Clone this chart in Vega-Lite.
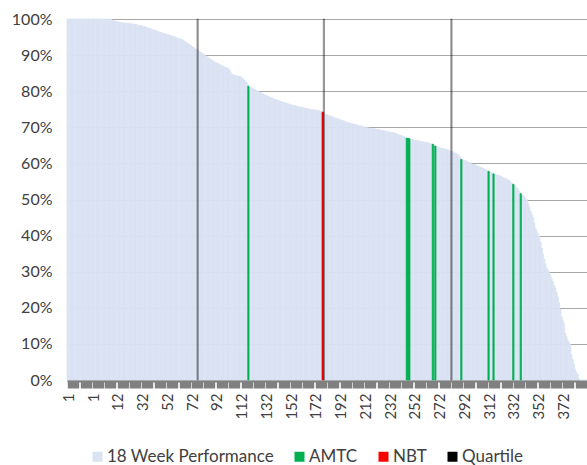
{
  "$schema": "https://vega.github.io/schema/vega-lite/v6.json",
  "width": 520,
  "height": 361,
  "autosize": {"type": "none"},
  "padding": {"left": 67, "top": 19, "right": 0, "bottom": 85},
  "config": {"view": {"stroke": null}},
  "encoding": {
    "x": {
      "field": "i",
      "type": "ordinal",
      "scale": {"type": "band", "paddingInner": 0, "paddingOuter": 0},
      "axis": {
        "title": null,
        "grid": false,
        "values": [0,10,20,30,40,50,60,70,80,90,100,110,120,130,140,150,160,170,180,190,200,210,220,230,240,250,260,270,280,290,300,310,320,330,340,350,360,370,380,390,400,410],
        "bandPosition": 0,
        "tickOffset": 6.19,
        "labelOffset": -5.57,
        "tickWidth": 11.38,
        "tickSize": 7,
        "tickColor": "#808080",
        "domainColor": "#808080",
        "domainWidth": 2,
        "offset": 1,
        "labelAngle": 270,
        "labelOverlap": false,
        "labelPadding": 5,
        "labelFont": "Lato",
        "labelFontSize": 15,
        "labelColor": "#404040",
        "labelExpr": "datum.value % 20 != 0 ? '' : (datum.value < 30 ? '1' : '' + (datum.value - 28))"
      }
    },
    "y": {
      "field": "v",
      "type": "quantitative",
      "scale": {"domain": [0, 100], "nice": false},
      "axis": {
        "title": null,
        "values": [0,10,20,30,40,50,60,70,80,90,100],
        "labelExpr": "datum.value + '%'",
        "grid": true,
        "gridColor": "#A6A6A6",
        "domainColor": "#A6A6A6",
        "ticks": false,
        "tickSize": 0,
        "labelPadding": 15,
        "labelFont": "Lato",
        "labelFontSize": 16,
        "labelColor": "#404040"
      }
    }
  },
  "layer": [
    {
      "data": {"values": [
{"i":0,"v":100},{"i":1,"v":100},{"i":2,"v":100},{"i":3,"v":100},{"i":4,"v":100},{"i":5,"v":100},{"i":6,"v":100},{"i":7,"v":100},{"i":8,"v":100},{"i":9,"v":100},
{"i":10,"v":100},{"i":11,"v":100},{"i":12,"v":100},{"i":13,"v":100},{"i":14,"v":100},{"i":15,"v":100},{"i":16,"v":100},{"i":17,"v":100},{"i":18,"v":100},{"i":19,"v":100},
{"i":20,"v":100},{"i":21,"v":100},{"i":22,"v":100},{"i":23,"v":100},{"i":24,"v":100},{"i":25,"v":100},{"i":26,"v":100},{"i":27,"v":100},{"i":28,"v":100},{"i":29,"v":100},
{"i":30,"v":100},{"i":31,"v":100},{"i":32,"v":100},{"i":33,"v":100},{"i":34,"v":100},{"i":35,"v":100},{"i":36,"v":99.6},{"i":37,"v":99.5},{"i":38,"v":99.4},{"i":39,"v":99.3},
{"i":40,"v":99.3},{"i":41,"v":99.2},{"i":42,"v":99.1},{"i":43,"v":99.0},{"i":44,"v":99.0},{"i":45,"v":98.9},{"i":46,"v":98.9},{"i":47,"v":98.8},{"i":48,"v":98.8},{"i":49,"v":98.8},
{"i":50,"v":98.7},{"i":51,"v":98.7},{"i":52,"v":98.6},{"i":53,"v":98.6},{"i":54,"v":98.5},{"i":55,"v":98.5},{"i":56,"v":98.4},{"i":57,"v":98.3},{"i":58,"v":98.2},{"i":59,"v":98.2},
{"i":60,"v":98.1},{"i":61,"v":98.0},{"i":62,"v":97.9},{"i":63,"v":97.8},{"i":64,"v":97.6},{"i":65,"v":97.5},{"i":66,"v":97.4},{"i":67,"v":97.3},{"i":68,"v":97.1},{"i":69,"v":97.0},
{"i":70,"v":96.9},{"i":71,"v":96.8},{"i":72,"v":96.7},{"i":73,"v":96.6},{"i":74,"v":96.4},{"i":75,"v":96.3},{"i":76,"v":96.2},{"i":77,"v":96.1},{"i":78,"v":96.0},{"i":79,"v":95.9},
{"i":80,"v":95.8},{"i":81,"v":95.7},{"i":82,"v":95.5},{"i":83,"v":95.4},{"i":84,"v":95.3},{"i":85,"v":95.2},{"i":86,"v":95.1},{"i":87,"v":95.0},{"i":88,"v":94.8},{"i":89,"v":94.7},
{"i":90,"v":94.6},{"i":91,"v":94.5},{"i":92,"v":94.3},{"i":93,"v":94.2},{"i":94,"v":94.0},{"i":95,"v":93.7},{"i":96,"v":93.5},{"i":97,"v":93.3},{"i":98,"v":93.0},{"i":99,"v":92.8},
{"i":100,"v":92.6},{"i":101,"v":92.3},{"i":102,"v":92.1},{"i":103,"v":91.8},{"i":104,"v":91.6},{"i":105,"v":91.4},{"i":106,"v":91.1},{"i":107,"v":90.9},{"i":108,"v":90.7},{"i":109,"v":90.5},
{"i":110,"v":90.2},{"i":111,"v":89.9},{"i":112,"v":89.7},{"i":113,"v":89.5},{"i":114,"v":89.2},{"i":115,"v":89.0},{"i":116,"v":88.7},{"i":117,"v":88.5},{"i":118,"v":88.3},{"i":119,"v":88.1},
{"i":120,"v":87.9},{"i":121,"v":87.8},{"i":122,"v":87.6},{"i":123,"v":87.4},{"i":124,"v":87.2},{"i":125,"v":87.0},{"i":126,"v":86.9},{"i":127,"v":86.7},{"i":128,"v":86.5},{"i":129,"v":86.4},
{"i":130,"v":86.2},{"i":131,"v":85.7},{"i":132,"v":85.1},{"i":133,"v":84.6},{"i":134,"v":84.5},{"i":135,"v":84.4},{"i":136,"v":84.3},{"i":137,"v":84.3},{"i":138,"v":84.2},{"i":139,"v":84.1},
{"i":140,"v":84.0},{"i":141,"v":83.7},{"i":142,"v":83.3},{"i":143,"v":83.0},{"i":144,"v":82.6},{"i":145,"v":82.3},{"i":146,"v":81.4},{"i":147,"v":81.2},{"i":148,"v":81.0},{"i":149,"v":80.9},
{"i":150,"v":80.7},{"i":151,"v":80.5},{"i":152,"v":80.3},{"i":153,"v":80.1},{"i":154,"v":79.9},{"i":155,"v":79.7},{"i":156,"v":79.6},{"i":157,"v":79.4},{"i":158,"v":79.2},{"i":159,"v":79.0},
{"i":160,"v":78.9},{"i":161,"v":78.7},{"i":162,"v":78.5},{"i":163,"v":78.4},{"i":164,"v":78.2},{"i":165,"v":78.1},{"i":166,"v":78.0},{"i":167,"v":77.8},{"i":168,"v":77.7},{"i":169,"v":77.6},
{"i":170,"v":77.5},{"i":171,"v":77.3},{"i":172,"v":77.2},{"i":173,"v":77.1},{"i":174,"v":77.0},{"i":175,"v":76.9},{"i":176,"v":76.8},{"i":177,"v":76.7},{"i":178,"v":76.5},{"i":179,"v":76.4},
{"i":180,"v":76.3},{"i":181,"v":76.2},{"i":182,"v":76.1},{"i":183,"v":76.0},{"i":184,"v":76.0},{"i":185,"v":75.9},{"i":186,"v":75.8},{"i":187,"v":75.7},{"i":188,"v":75.6},{"i":189,"v":75.5},
{"i":190,"v":75.5},{"i":191,"v":75.4},{"i":192,"v":75.3},{"i":193,"v":75.2},{"i":194,"v":75.2},{"i":195,"v":75.1},{"i":196,"v":75.0},{"i":197,"v":74.9},{"i":198,"v":74.9},{"i":199,"v":74.8},
{"i":200,"v":74.8},{"i":201,"v":74.7},{"i":202,"v":74.7},{"i":203,"v":74.6},{"i":204,"v":74.5},{"i":205,"v":74.4},{"i":206,"v":74.2},{"i":207,"v":73.9},{"i":208,"v":73.6},{"i":209,"v":73.5},
{"i":210,"v":73.4},{"i":211,"v":73.2},{"i":212,"v":73.1},{"i":213,"v":73.0},{"i":214,"v":72.9},{"i":215,"v":72.8},{"i":216,"v":72.6},{"i":217,"v":72.5},{"i":218,"v":72.4},{"i":219,"v":72.3},
{"i":220,"v":72.1},{"i":221,"v":72.0},{"i":222,"v":71.9},{"i":223,"v":71.8},{"i":224,"v":71.6},{"i":225,"v":71.5},{"i":226,"v":71.4},{"i":227,"v":71.3},{"i":228,"v":71.2},{"i":229,"v":71.1},
{"i":230,"v":71.0},{"i":231,"v":70.9},{"i":232,"v":70.8},{"i":233,"v":70.7},{"i":234,"v":70.6},{"i":235,"v":70.5},{"i":236,"v":70.4},{"i":237,"v":70.4},{"i":238,"v":70.3},{"i":239,"v":70.2},
{"i":240,"v":70.1},{"i":241,"v":69.9},{"i":242,"v":69.9},{"i":243,"v":69.8},{"i":244,"v":69.8},{"i":245,"v":69.7},{"i":246,"v":69.7},{"i":247,"v":69.6},{"i":248,"v":69.6},{"i":249,"v":69.5},
{"i":250,"v":69.4},{"i":251,"v":69.4},{"i":252,"v":69.3},{"i":253,"v":69.2},{"i":254,"v":69.1},{"i":255,"v":69.1},{"i":256,"v":69.0},{"i":257,"v":68.9},{"i":258,"v":68.8},{"i":259,"v":68.8},
{"i":260,"v":68.7},{"i":261,"v":68.6},{"i":262,"v":68.6},{"i":263,"v":68.5},{"i":264,"v":68.4},{"i":265,"v":68.3},{"i":266,"v":68.2},{"i":267,"v":68.0},{"i":268,"v":67.9},{"i":269,"v":67.8},
{"i":270,"v":67.7},{"i":271,"v":67.5},{"i":272,"v":67.4},{"i":273,"v":67.2},{"i":274,"v":67.0},{"i":275,"v":66.9},{"i":276,"v":66.8},{"i":277,"v":66.7},{"i":278,"v":66.6},{"i":279,"v":66.6},
{"i":280,"v":66.5},{"i":281,"v":66.4},{"i":282,"v":66.3},{"i":283,"v":66.3},{"i":284,"v":66.2},{"i":285,"v":66.1},{"i":286,"v":66.1},{"i":287,"v":66.0},{"i":288,"v":65.9},{"i":289,"v":65.8},
{"i":290,"v":65.8},{"i":291,"v":65.7},{"i":292,"v":65.6},{"i":293,"v":65.5},{"i":294,"v":65.4},{"i":295,"v":65.3},{"i":296,"v":65.0},{"i":297,"v":64.8},{"i":298,"v":64.7},{"i":299,"v":64.6},
{"i":300,"v":64.4},{"i":301,"v":64.3},{"i":302,"v":64.2},{"i":303,"v":64.1},{"i":304,"v":64.1},{"i":305,"v":64.0},{"i":306,"v":63.9},{"i":307,"v":63.8},{"i":308,"v":63.6},{"i":309,"v":63.5},
{"i":310,"v":63.3},{"i":311,"v":63.2},{"i":312,"v":63.0},{"i":313,"v":62.9},{"i":314,"v":62.7},{"i":315,"v":62.4},{"i":316,"v":62.1},{"i":317,"v":61.7},{"i":318,"v":61.1},{"i":319,"v":61.0},
{"i":320,"v":60.9},{"i":321,"v":60.8},{"i":322,"v":60.7},{"i":323,"v":60.5},{"i":324,"v":60.3},{"i":325,"v":60.2},{"i":326,"v":59.9},{"i":327,"v":59.8},{"i":328,"v":59.7},{"i":329,"v":59.6},
{"i":330,"v":59.5},{"i":331,"v":59.3},{"i":332,"v":59.2},{"i":333,"v":59.0},{"i":334,"v":58.9},{"i":335,"v":58.7},{"i":336,"v":58.6},{"i":337,"v":58.4},{"i":338,"v":58.3},{"i":339,"v":58.0},
{"i":340,"v":57.8},{"i":341,"v":57.7},{"i":342,"v":57.5},{"i":343,"v":57.3},{"i":344,"v":57.1},{"i":345,"v":57.0},{"i":346,"v":56.9},{"i":347,"v":56.8},{"i":348,"v":56.7},{"i":349,"v":56.6},
{"i":350,"v":56.5},{"i":351,"v":56.3},{"i":352,"v":56.1},{"i":353,"v":55.9},{"i":354,"v":55.8},{"i":355,"v":55.6},{"i":356,"v":55.4},{"i":357,"v":55.1},{"i":358,"v":54.8},{"i":359,"v":54.5},
{"i":360,"v":54.2},{"i":361,"v":53.9},{"i":362,"v":53.6},{"i":363,"v":53.2},{"i":364,"v":52.8},{"i":365,"v":52.2},{"i":366,"v":51.6},{"i":367,"v":51.3},{"i":368,"v":51.0},{"i":369,"v":50.6},
{"i":370,"v":50.2},{"i":371,"v":49.9},{"i":372,"v":48.8},{"i":373,"v":47.8},{"i":374,"v":46.8},{"i":375,"v":45.9},{"i":376,"v":45.0},{"i":377,"v":43.5},{"i":378,"v":42.0},{"i":379,"v":41.2},
{"i":380,"v":40.5},{"i":381,"v":39.8},{"i":382,"v":38.2},{"i":383,"v":36.5},{"i":384,"v":35.0},{"i":385,"v":33.5},{"i":386,"v":32.2},{"i":387,"v":31.0},{"i":388,"v":30.4},{"i":389,"v":29.8},
{"i":390,"v":28.9},{"i":391,"v":28.0},{"i":392,"v":27.2},{"i":393,"v":26.3},{"i":394,"v":25.5},{"i":395,"v":24.2},{"i":396,"v":23.0},{"i":397,"v":21.5},{"i":398,"v":19.6},{"i":399,"v":17.5},
{"i":400,"v":16.5},{"i":401,"v":15.6},{"i":402,"v":13.0},{"i":403,"v":12.0},{"i":404,"v":11.0},{"i":405,"v":10.4},{"i":406,"v":9.8},{"i":407,"v":7.0},{"i":408,"v":5.7},{"i":409,"v":4.4},
{"i":410,"v":3.0},{"i":411,"v":2.2},{"i":412,"v":1.5},{"i":413,"v":0.5},{"i":414,"v":0},{"i":415,"v":0},{"i":416,"v":0},{"i":417,"v":0},{"i":418,"v":0},{"i":419,"v":0}
      ]},
      "mark": {"type": "bar", "stroke": "#DAE3F3", "strokeWidth": 0.6},
      "encoding": {
        "color": {
          "datum": "18 Week Performance",
          "type": "nominal",
          "scale": {
            "domain": ["18 Week Performance", "AMTC", "NBT", "Quartile"],
            "range": ["#DAE3F3", "#00B050", "#FF0000", "#000000"]
          },
          "legend": {
            "title": null,
            "orient": "none",
            "legendX": 22,
            "legendY": 429,
            "direction": "horizontal",
            "symbolType": "square",
            "symbolSize": 100,
            "symbolStrokeWidth": 0,
            "symbolOpacity": 1,
            "labelFont": "Lato",
            "labelFontSize": 17,
            "labelLimit": 400,
            "labelColor": "#404040",
            "labelOffset": 1,
            "columnPadding": 17,
            "padding": 0
          }
        }
      }
    },
    {
      "data": {"values": [
        {"i": 146, "v": 81.4, "s": "AMTC"},
        {"i": 274, "v": 67.0, "s": "AMTC"},
        {"i": 275, "v": 66.9, "s": "AMTC"},
        {"i": 276, "v": 66.8, "s": "AMTC"},
        {"i": 295, "v": 65.3, "s": "AMTC"},
        {"i": 297, "v": 64.8, "s": "AMTC"},
        {"i": 318, "v": 61.1, "s": "AMTC"},
        {"i": 340, "v": 57.8, "s": "AMTC"},
        {"i": 344, "v": 57.1, "s": "AMTC"},
        {"i": 360, "v": 54.2, "s": "AMTC"},
        {"i": 366, "v": 51.6, "s": "AMTC"},
        {"i": 206, "v": 74.2, "s": "NBT"},
        {"i": 105, "v": 100, "s": "Quartile"},
        {"i": 207, "v": 100, "s": "Quartile"},
        {"i": 310, "v": 100, "s": "Quartile"}
      ]},
      "mark": {"type": "bar", "strokeWidth": 0.8},
      "encoding": {
        "color": {
          "field": "s",
          "type": "nominal",
          "legend": {
            "title": null,
            "orient": "none",
            "legendX": 22,
            "legendY": 429,
            "direction": "horizontal",
            "symbolType": "square",
            "symbolSize": 100,
            "symbolStrokeWidth": 0,
            "symbolOpacity": 1,
            "labelFont": "Lato",
            "labelFontSize": 17,
            "labelLimit": 400,
            "labelColor": "#404040",
            "labelOffset": 1,
            "columnPadding": 17,
            "padding": 0
          }
        },
        "stroke": {
          "field": "s",
          "type": "nominal",
          "scale": {"domain": ["AMTC", "NBT", "Quartile"], "range": ["#00B050", "#FF0000", "#000000"]},
          "legend": null
        },
        "opacity": {"condition": {"test": "datum.s === 'Quartile'", "value": 0.45}, "value": 1}
      }
    }
  ]
}
